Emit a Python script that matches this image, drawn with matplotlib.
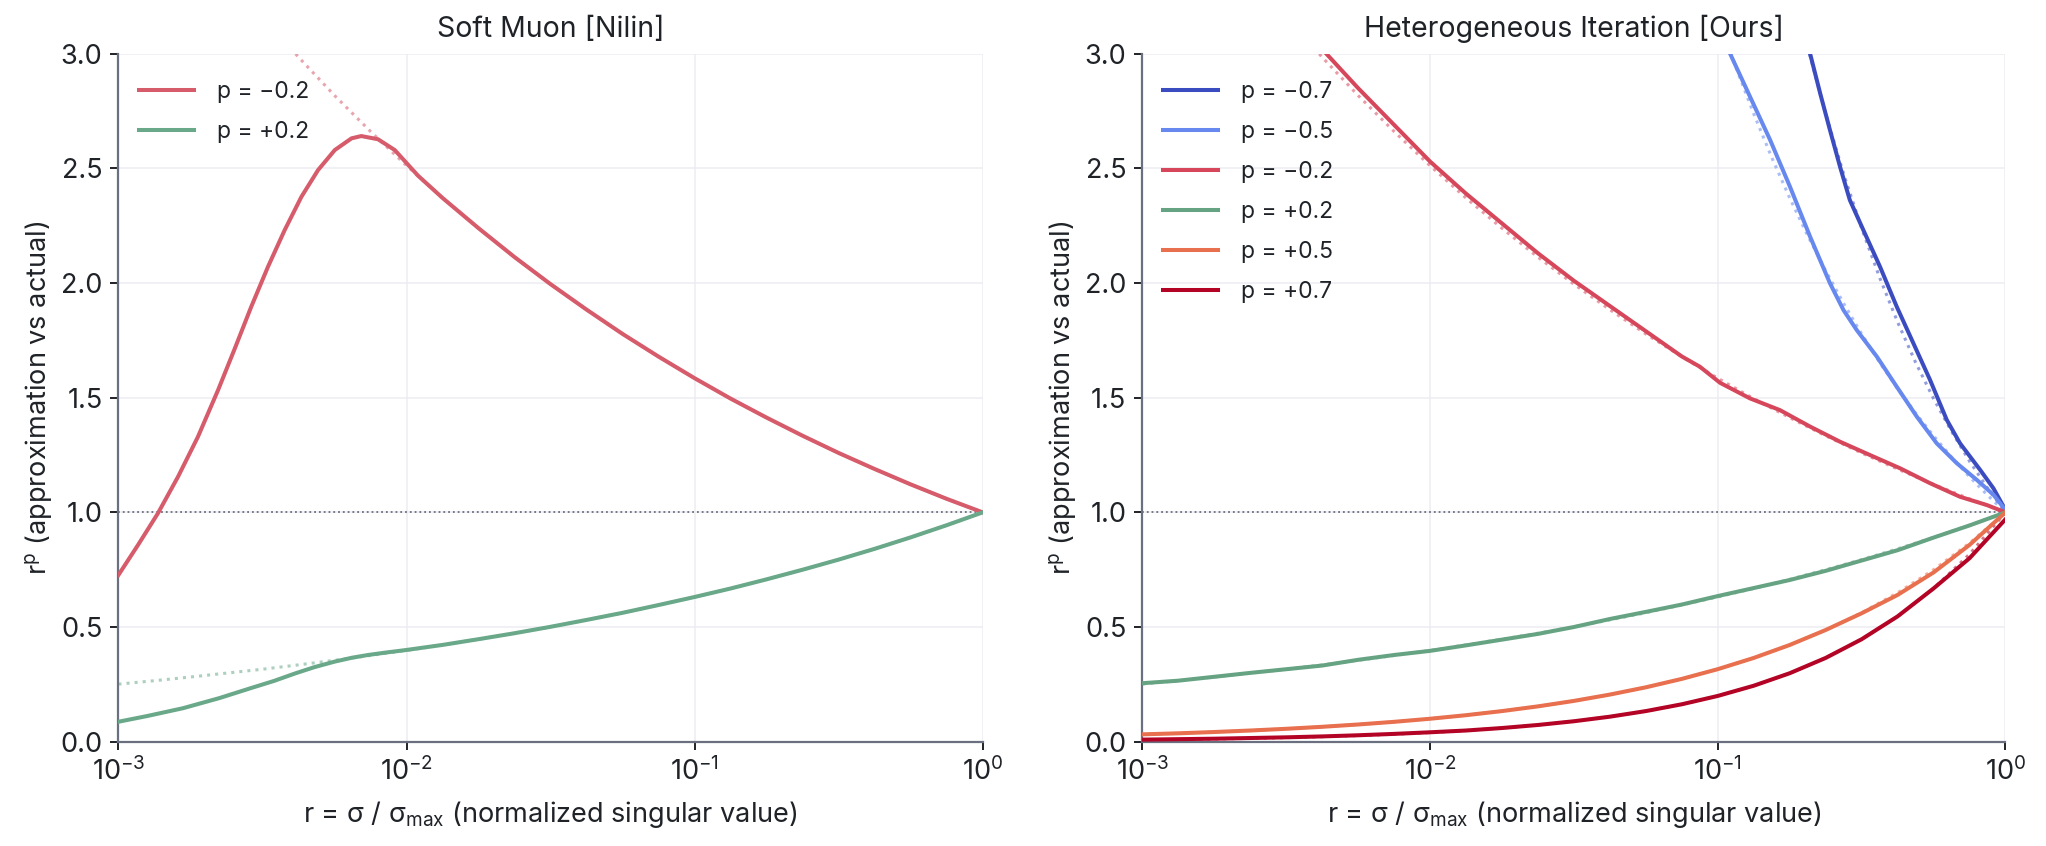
import numpy as np
import matplotlib
matplotlib.use("Agg")
import matplotlib.pyplot as plt
from matplotlib.ticker import FixedLocator, NullLocator, LogFormatterMathtext, FormatStrFormatter

plt.rcParams['font.family'] = ['Inter', 'DejaVu Sans']
plt.rcParams['mathtext.default'] = 'regular'

# ---------------- data (log10 r positions and values) ----------------
grid_logr = [-3.0, -2.875, -2.75, -2.625, -2.5, -2.375, -2.25, -2.125, -2.0, -1.875,
             -1.75, -1.625, -1.5, -1.375, -1.25, -1.125, -1.0, -0.875, -0.75, -0.625,
             -0.5, -0.375, -0.25, -0.125, 0.0]

# exact r^p curves (dotted)
exact_m02 = [3.981, 3.758, 3.548, 3.350, 3.162, 2.985, 2.818, 2.661, 2.512, 2.371,
             2.239, 2.113, 1.995, 1.884, 1.778, 1.679, 1.585, 1.496, 1.413, 1.334,
             1.259, 1.189, 1.122, 1.059, 1.0]
exact_p02 = [0.251, 0.266, 0.282, 0.299, 0.316, 0.335, 0.355, 0.376, 0.398, 0.422,
             0.447, 0.473, 0.501, 0.531, 0.562, 0.596, 0.631, 0.668, 0.708, 0.750,
             0.794, 0.841, 0.891, 0.944, 1.0]
exact_p05 = [0.0316, 0.0365, 0.0422, 0.0487, 0.0562, 0.0649, 0.0750, 0.0866, 0.100, 0.1155,
             0.1334, 0.1540, 0.1778, 0.2054, 0.2371, 0.2738, 0.3162, 0.3652, 0.4217, 0.4870,
             0.5623, 0.6494, 0.7499, 0.8660, 1.0]
exact_p07 = [0.0079, 0.0097, 0.0119, 0.0145, 0.0178, 0.0218, 0.0266, 0.0326, 0.0398, 0.0487,
             0.0596, 0.0729, 0.0891, 0.1090, 0.1334, 0.1631, 0.1995, 0.2440, 0.2985, 0.3652,
             0.4467, 0.5464, 0.6683, 0.8175, 1.0]

fine_logr = [-1.25, -1.1875, -1.125, -1.0625, -1.0, -0.9375, -0.875, -0.8125, -0.75, -0.6875,
             -0.625, -0.5625, -0.5, -0.4375, -0.375, -0.3125, -0.25, -0.1875, -0.125, -0.0625, 0.0]
exact_m05 = [4.217, 3.924, 3.652, 3.398, 3.162, 2.943, 2.738, 2.548, 2.371, 2.207,
             2.054, 1.911, 1.778, 1.654, 1.540, 1.433, 1.334, 1.241, 1.155, 1.075, 1.0]
exact_m07 = [7.499, 6.773, 6.119, 5.527, 5.012, 4.528, 4.090, 3.705, 3.350, 3.029,
             2.738, 2.476, 2.239, 2.024, 1.830, 1.654, 1.496, 1.353, 1.223, 1.106, 1.0]

# Soft Muon approximations (left panel)
soft_m02_logr = [-3.0, -2.932, -2.863, -2.793, -2.724, -2.654, -2.596, -2.539, -2.481, -2.423,
                 -2.365, -2.307, -2.249, -2.191, -2.157, -2.099, -2.041, -1.96, -1.875, -1.75,
                 -1.625, -1.5, -1.375, -1.25, -1.125, -1.0, -0.875, -0.75, -0.625, -0.5,
                 -0.375, -0.25, -0.125, 0.0]
soft_m02 = [0.727, 0.858, 0.996, 1.156, 1.330, 1.534, 1.715, 1.897, 2.071, 2.231,
            2.376, 2.493, 2.580, 2.631, 2.641, 2.627, 2.580, 2.468, 2.371, 2.239,
            2.113, 1.995, 1.884, 1.778, 1.679, 1.585, 1.496, 1.413, 1.334, 1.259,
            1.189, 1.122, 1.059, 1.0]
soft_p02_logr = [-3.0, -2.9, -2.776, -2.65, -2.542, -2.46, -2.386, -2.32, -2.25, -2.19,
                 -2.134, -2.07, -2.0, -1.875, -1.75, -1.625, -1.5, -1.375, -1.25, -1.125,
                 -1.0, -0.875, -0.75, -0.625, -0.5, -0.375, -0.25, -0.125, 0.0]
soft_p02 = [0.087, 0.112, 0.146, 0.190, 0.233, 0.265, 0.298, 0.325, 0.349, 0.366,
            0.378, 0.389, 0.400, 0.422, 0.447, 0.473, 0.501, 0.531, 0.562, 0.596,
            0.631, 0.668, 0.708, 0.750, 0.794, 0.841, 0.891, 0.944, 1.0]

# Heterogeneous iteration approximations (right panel)
het_m07_logr = [-0.72, -0.679, -0.644, -0.610, -0.575, -0.541, -0.494, -0.436, -0.378,
                -0.320, -0.262, -0.204, -0.158, -0.088, -0.042, 0.0]
het_m07 = [3.25, 3.0, 2.827, 2.667, 2.507, 2.362, 2.231, 2.071, 1.897,
           1.737, 1.577, 1.403, 1.301, 1.185, 1.105, 1.01]
het_m05_logr = [-1.0, -0.957, -0.888, -0.818, -0.749, -0.679, -0.610, -0.563, -0.517,
                -0.447, -0.378, -0.308, -0.239, -0.169, -0.100, -0.042, 0.0]
het_m05 = [3.13, 3.0, 2.813, 2.624, 2.420, 2.202, 1.999, 1.882, 1.795,
           1.679, 1.548, 1.417, 1.301, 1.214, 1.142, 1.077, 1.01]
het_m02_logr = [-2.5, -2.375, -2.25, -2.125, -2.0, -1.875, -1.75, -1.625, -1.5, -1.375,
                -1.25, -1.125, -1.062, -0.992, -0.888, -0.784, -0.679, -0.575, -0.471, -0.366,
                -0.262, -0.158, -0.065, 0.0]
het_m02 = [3.19, 3.02, 2.85, 2.69, 2.53, 2.39, 2.26, 2.13, 2.01, 1.90,
           1.79, 1.68, 1.635, 1.565, 1.497, 1.446, 1.374, 1.308, 1.250, 1.192,
           1.127, 1.068, 1.032, 1.0]
het_p02 = [0.255, 0.266, 0.283, 0.300, 0.316, 0.332, 0.357, 0.378, 0.396, 0.420,
           0.445, 0.470, 0.500, 0.535, 0.566, 0.598, 0.635, 0.670, 0.705, 0.745,
           0.790, 0.835, 0.890, 0.943, 1.0]
het_p05 = [0.032, 0.0365, 0.0422, 0.0487, 0.0562, 0.0649, 0.0750, 0.0866, 0.100, 0.1155,
           0.1334, 0.1540, 0.1778, 0.2054, 0.2371, 0.2738, 0.3162, 0.3652, 0.4217, 0.4870,
           0.5600, 0.640, 0.738, 0.858, 1.0]
het_p07 = [0.009, 0.011, 0.013, 0.016, 0.019, 0.023, 0.028, 0.034, 0.041, 0.0487,
           0.0596, 0.0729, 0.0891, 0.1090, 0.1334, 0.1631, 0.1995, 0.2440, 0.2985, 0.3652,
           0.4467, 0.5464, 0.6683, 0.800, 0.970]

left_labels = ['p = \u22120.2', 'p = +0.2']
right_labels = ['p = \u22120.7', 'p = \u22120.5', 'p = \u22120.2', 'p = +0.2', 'p = +0.5', 'p = +0.7']
yticks = [0.0, 0.5, 1.0, 1.5, 2.0, 2.5, 3.0]
xticks = [1e-3, 1e-2, 1e-1, 1e0]

# ---------------- style ----------------
C_L_RED = '#d65b6b'
C_L_GREEN = '#6aa88a'
C_M07 = '#3b4cc0'
C_M05 = '#6788ee'
C_M02 = '#d6475b'
C_P02 = '#66a383'
C_P05 = '#e8704f'
C_P07 = '#b40426'
SPINE = '#6b7080'
GRID = '#ececf2'
TXT = '#1f2328'

def R(lst):
    return 10.0 ** np.asarray(lst)

fig = plt.figure(figsize=(20.46, 8.46), dpi=100)
ax1 = fig.add_axes([0.0579, 0.1233, 0.4224, 0.8132])
ax2 = fig.add_axes([0.5583, 0.1233, 0.4219, 0.8132])

LW = 2.9
DOT = dict(ls=':', lw=2.2, alpha=0.55)

# left panel
ax1.plot(R(grid_logr), exact_m02, color=C_L_RED, zorder=2, **DOT)
ax1.plot(R(grid_logr), exact_p02, color=C_L_GREEN, zorder=2, **DOT)
ax1.plot(R(soft_m02_logr), soft_m02, color=C_L_RED, lw=LW, label=left_labels[0], zorder=3)
ax1.plot(R(soft_p02_logr), soft_p02, color=C_L_GREEN, lw=LW, label=left_labels[1], zorder=3)

# right panel
ax2.plot(R(fine_logr), exact_m07, color=C_M07, zorder=2, **DOT)
ax2.plot(R(fine_logr), exact_m05, color=C_M05, zorder=2, **DOT)
ax2.plot(R(grid_logr), exact_m02, color=C_M02, zorder=2, **DOT)
ax2.plot(R(grid_logr), exact_p02, color=C_P02, zorder=2, **DOT)
ax2.plot(R(grid_logr), exact_p05, color=C_P05, zorder=2, **DOT)
ax2.plot(R(grid_logr), exact_p07, color=C_P07, zorder=2, **DOT)
ax2.plot(R(het_m07_logr), het_m07, color=C_M07, lw=LW, label=right_labels[0], zorder=3)
ax2.plot(R(het_m05_logr), het_m05, color=C_M05, lw=LW, label=right_labels[1], zorder=3)
ax2.plot(R(het_m02_logr), het_m02, color=C_M02, lw=LW, label=right_labels[2], zorder=3)
ax2.plot(R(grid_logr), het_p02, color=C_P02, lw=LW, label=right_labels[3], zorder=3)
ax2.plot(R(grid_logr), het_p05, color=C_P05, lw=LW, label=right_labels[4], zorder=3)
ax2.plot(R(grid_logr), het_p07, color=C_P07, lw=LW, label=right_labels[5], zorder=3)

titles = ['Soft Muon [Nilin]', 'Heterogeneous Iteration [Ours]']
for ax, title in zip([ax1, ax2], titles):
    ax.axhline(1.0, color=SPINE, ls=':', lw=1.3, zorder=1)
    ax.set_xscale('log')
    ax.set_xlim(1e-3, 1.0)
    ax.set_ylim(0.0, 3.0)
    ax.xaxis.set_major_locator(FixedLocator(xticks))
    ax.xaxis.set_minor_locator(NullLocator())
    ax.xaxis.set_major_formatter(LogFormatterMathtext())
    ax.yaxis.set_major_locator(FixedLocator(yticks))
    ax.yaxis.set_major_formatter(FormatStrFormatter('%.1f'))
    ax.grid(True, color=GRID, lw=1.1, zorder=0)
    ax.set_axisbelow(True)
    for s in ['top', 'right']:
        ax.spines[s].set_visible(False)
    for s in ['left', 'bottom']:
        ax.spines[s].set_color(SPINE)
        ax.spines[s].set_linewidth(1.6)
    ax.tick_params(axis='both', which='major', labelsize=19.5, colors=TXT,
                   length=5.5, width=1.4, pad=6)
    ax.set_title(title, fontsize=20.5, color=TXT, pad=12)
    ax.set_xlabel('r = \u03c3 / \u03c3$_{max}$ (normalized singular value)', fontsize=19.5, color=TXT, labelpad=9)
    ax.set_ylabel('r$^{p}$ (approximation vs actual)', fontsize=19.5, color=TXT, labelpad=4)
    leg = ax.legend(loc='upper left', frameon=False, fontsize=16.5, handlelength=2.4,
                    handletextpad=1.0, labelspacing=0.78, borderaxespad=0.5,
                    bbox_to_anchor=(0.0, 0.99))
    for t in leg.get_texts():
        t.set_color(TXT)

fig.savefig('out.png', dpi=100, facecolor='white')
